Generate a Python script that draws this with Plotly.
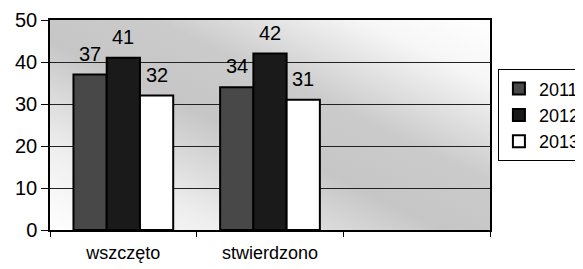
import base64
import plotly.graph_objects as go

categories = ["wszczęto", "stwierdzono", " "]
years = ["2011", "2012", "2013"]
v2011 = [37, 34, None]
v2012 = [41, 42, None]
v2013 = [32, 31, None]

series = [v2011, v2012, v2013]
colors = ["#484848", "#1a1a1a", "#ffffff"]

# layout geometry (page body has an 8px default margin)
W, H = 575, 261
ML, MR, MT, MB = 42, 93, 12, 39
BARGAP = 0.32
plot_w = W - ML - MR
bar_w = plot_w / len(categories) * (1 - BARGAP) / len(years)

svg = (
    '<svg xmlns="http://www.w3.org/2000/svg" width="440" height="210" viewBox="0 0 440 210" preserveAspectRatio="none">'
    '<defs><linearGradient id="g" x1="0" y1="1" x2="1" y2="0">'
    '<stop offset="0" stop-color="#ffffff"/>'
    '<stop offset="0.2" stop-color="#eeeeee"/>'
    '<stop offset="0.45" stop-color="#c6c6c6"/>'
    '<stop offset="0.62" stop-color="#cbcbcb"/>'
    '<stop offset="0.85" stop-color="#f6f6f6"/>'
    '<stop offset="1" stop-color="#ffffff"/>'
    '</linearGradient></defs>'
    '<rect x="0" y="0" width="440" height="210" fill="url(#g)"/></svg>'
)
bg_uri = "data:image/svg+xml;base64," + base64.b64encode(svg.encode()).decode()

fig = go.Figure()
for i, (name, vals, col) in enumerate(zip(years, series, colors)):
    fig.add_trace(go.Bar(
        x=categories, y=vals, name=name,
        marker=dict(color=col, line=dict(color="black", width=2)),
    ))
    for cat, v in zip(categories, vals):
        if v is None:
            continue
        fig.add_annotation(
            x=cat, y=v, xref="x", yref="y", text=str(v), showarrow=False,
            xanchor="center", yanchor="bottom",
            xshift=(i - 1) * bar_w, yshift=8,
            font=dict(size=20, color="black", family="Liberation Sans, Arial"),
        )

fig.add_layout_image(dict(
    source=bg_uri, xref="paper", yref="paper", x=0, y=1,
    sizex=1, sizey=1, xanchor="left", yanchor="top",
    sizing="stretch", layer="below",
))

fig.update_layout(
    width=W, height=H,
    margin=dict(l=ML, r=MR, t=MT, b=MB, autoexpand=False),
    barmode="group", bargap=BARGAP, bargroupgap=0,
    paper_bgcolor="white", plot_bgcolor="rgba(0,0,0,0)",
    font=dict(family="Liberation Sans, Arial", size=18, color="black"),
    showlegend=True,
    legend=dict(x=1.018, y=0.765, xanchor="left", yanchor="top",
                bordercolor="black", borderwidth=1, bgcolor="white",
                font=dict(size=18), itemwidth=30, tracegroupgap=0),
)
fig.update_yaxes(range=[0, 50], tickvals=[0, 10, 20, 30, 40, 50],
                 tickfont=dict(size=20),
                 showgrid=True, gridcolor="#222222", gridwidth=1,
                 showline=True, linecolor="black", linewidth=1.5, mirror=True,
                 ticks="outside", ticklen=7, tickcolor="black", zeroline=False,
                 automargin=False)
fig.update_xaxes(type="category", tickson="boundaries", showgrid=False,
                 tickfont=dict(size=18),
                 showline=True, linecolor="black", linewidth=1.5, mirror=True,
                 ticks="outside", ticklen=5, tickcolor="black", automargin=False,
                 ticklabelstandoff=6)

fig.write_html("out.html")
